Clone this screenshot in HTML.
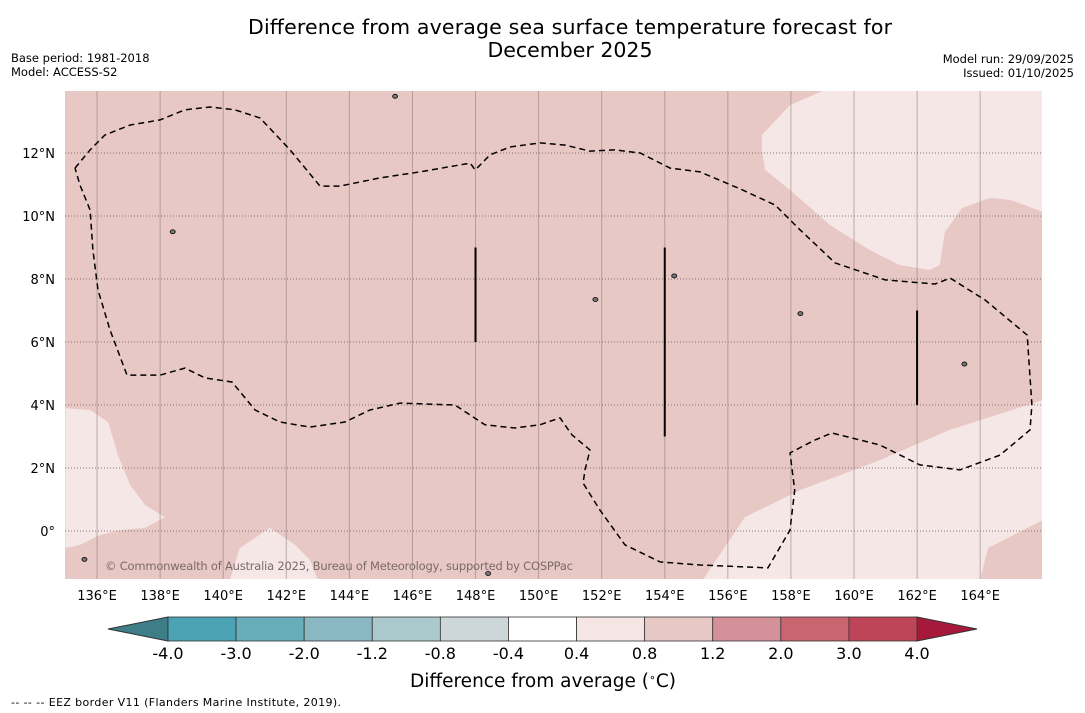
<!DOCTYPE html>
<html><head><meta charset="utf-8">
<style>
body{margin:0;background:#fff;width:1085px;height:713px;overflow:hidden;font-family:"Liberation Sans","DejaVu Sans",sans-serif}
svg{display:block}
text{font-family:"DejaVu Sans","Liberation Sans",sans-serif}
</style></head>
<body>
<svg id="chart" width="1085" height="713" xmlns="http://www.w3.org/2000/svg">
<text x="570" y="34" font-size="20.5" text-anchor="middle" textLength="644">Difference from average sea surface temperature forecast for</text>
<text x="570" y="57" font-size="20.5" text-anchor="middle">December 2025</text>
<text x="11" y="62" font-size="11.5">Base period: 1981-2018</text>
<text x="11" y="76" font-size="11.5">Model: ACCESS-S2</text>
<text x="1074" y="63" font-size="11.5" text-anchor="end">Model run: 29/09/2025</text>
<text x="1074" y="77" font-size="11.5" text-anchor="end">Issued: 01/10/2025</text>
<g id="map"></g>
<g id="cbar"></g>
<text x="543" y="687" font-size="18.5" text-anchor="middle">Difference from average (<tspan baseline-shift="super" font-size="11">∘</tspan>C)</text>
<text x="11" y="706" font-size="11" textLength="330">--  --  -- EEZ border V11 (Flanders Marine Institute, 2019).</text>
</svg>
<script>
const lonTicks=[136,138,140,142,144,146,148,150,152,154,156,158,160,162,164];
const latTicks=[0,2,4,6,8,10,12];
const cbBounds=[-4.0,-3.0,-2.0,-1.2,-0.8,-0.4,0.4,0.8,1.2,2.0,3.0,4.0];
const cbColors=["#4aa2b3","#6aadba","#89b8c3","#a9c9cd","#cdd7d9","#ffffff","#f5e6e4","#e8c8c4","#d5919a","#c8656f","#bd4557"];
const lightLonA=[157.08,157.97,159.08,166,166,164.95,164.31,163.42,162.88,162.72,162.4,161.45,160.5,159.24,157.97,157.18,157.08];
const lightLatA=[12.57,13.52,14,14,10.13,10.51,10.57,10.25,9.49,8.44,8.29,8.44,8.92,9.71,10.83,11.46,12.1];
const lightLonB=[155.21,156.54,158.29,160.82,163.04,166,166,164.25,164.0];
const lightLatB=[-1.55,0.44,1.30,2.25,3.21,4.16,0.35,-0.54,-1.55];
const lightLonC=[135,135.78,136.35,136.66,137.05,137.52,138.15,137.52,136.73,136.09,135.46,135];
const lightLatC=[3.90,3.84,3.46,2.41,1.46,0.83,0.44,0.10,0.03,-0.13,-0.44,-0.54];
const lightLonD=[140.21,140.53,141.48,142.28,142.75,143.0];
const lightLatD=[-1.55,-0.54,0.10,-0.44,-0.92,-1.55];
const eezLon=[135.30,135.78,136.25,137.05,138.0,138.79,139.58,140.37,141.17,142.12,143.07,143.70,144.97,146.24,147.83,147.99,148.46,149.09,150.04,150.84,151.63,152.42,153.22,154.17,155.12,156.39,157.50,158.29,159.40,160.99,162.57,163.05,164.16,165.49,165.64,165.58,164.63,163.36,162.09,160.82,160.19,159.30,158.76,157.97,158.12,157.97,157.27,155.12,153.85,152.74,151.94,151.41,151.47,151.63,151.06,150.68,150.04,149.25,148.30,147.35,145.61,144.65,143.86,142.75,141.80,141.01,140.28,139.42,138.79,138.0,136.95,136.41,136.03,135.87,135.78,135.46,135.30];
const eezLat=[11.52,12.10,12.57,12.89,13.05,13.37,13.46,13.37,13.11,12.10,10.95,10.95,11.21,11.40,11.68,11.46,11.94,12.19,12.32,12.25,12.06,12.10,12.0,11.52,11.40,10.86,10.35,9.56,8.51,7.97,7.84,8.03,7.33,6.22,4.0,3.21,2.41,1.94,2.10,2.73,2.89,3.11,2.89,2.48,1.30,0.03,-1.17,-1.08,-0.98,-0.44,0.67,1.52,1.94,2.57,3.05,3.59,3.37,3.27,3.37,4.0,4.06,3.84,3.46,3.30,3.46,3.84,4.73,4.86,5.17,4.95,4.95,6.38,7.65,8.92,10.19,10.98,11.52];
const segLon=[148,154,162];
const segLat0=[9,9,7];
const segLat1=[6,3,4];
const islandLon=[145.45,151.8,158.3,163.5,154.3,135.6,148.4,138.4];
const islandLat=[13.8,7.35,6.9,5.3,8.1,-0.9,-1.35,9.5];

const X0=65.5,Y0=531,SX=31.54,SY=31.5,L=65,R=1042,T=91,B=579;
const xs=lon=>X0+(lon-135)*SX;
const ys=lat=>Y0-lat*SY;
const NS="http://www.w3.org/2000/svg";
function mk(tag,parent,at){const e=document.createElementNS(NS,tag);for(const k in at)e.setAttribute(k,at[k]);parent.appendChild(e);return e;}
const map=document.getElementById('map');
const clip=mk('clipPath',map,{id:'mc'});mk('rect',clip,{x:L,y:T,width:R-L,height:B-T});
const bg=mk('rect',map,{x:L,y:T,width:R-L,height:B-T,fill:'#e8c8c4'});


const g=mk('g',map,{'clip-path':'url(#mc)'});
function poly(lons,lats){return lons.map((l,i)=>xs(l).toFixed(1)+','+ys(lats[i]).toFixed(1)).join(' ');}
[[lightLonA,lightLatA,'light-anomaly-northeast'],[lightLonB,lightLatB,'light-anomaly-southeast'],[lightLonC,lightLatC,'light-anomaly-west'],[lightLonD,lightLatD,'light-anomaly-south']].forEach(([a,b,n])=>{
  const p=mk('polygon',g,{points:poly(a,b),fill:'#f5e7e5'});
  
  
});
lonTicks.forEach(l=>{
  const ln=mk('line',g,{x1:xs(l),x2:xs(l),y1:T,y2:B,stroke:'#8a7a7a','stroke-opacity':0.55,'stroke-width':1});
  
  
  const t=mk('text',map,{x:xs(l),y:600,'font-size':13,'text-anchor':'middle'});t.textContent=l+'°E';
  
  
});
latTicks.forEach(l=>{
  const ln=mk('line',g,{x1:L,x2:R,y1:ys(l),y2:ys(l),stroke:'#6a5a5a','stroke-opacity':0.8,'stroke-width':1,'stroke-dasharray':'1,2'});
  
  
  const t=mk('text',map,{x:55,y:ys(l)+5,'font-size':13,'text-anchor':'end'});t.textContent=(l===0?'0°':l+'°N');
  
  
});
const eez=mk('polyline',g,{points:poly(eezLon,eezLat),fill:'none',stroke:'#000','stroke-width':1.5,'stroke-dasharray':'6,4'});


segLon.forEach((l,i)=>{
  const s=mk('line',g,{x1:xs(l),x2:xs(l),y1:ys(segLat0[i]),y2:ys(segLat1[i]),stroke:'#000','stroke-width':2});
  
  
});
islandLon.forEach((l,i)=>{
  const c=mk('ellipse',g,{cx:xs(l),cy:ys(islandLat[i]),rx:2.5,ry:2,fill:'#777',stroke:'#000','stroke-width':0.8});
  
  
});
const cr=mk('text',g,{x:105,y:570,'font-size':11.5,fill:'#7a6a6a',textLength:468});cr.textContent='© Commonwealth of Australia 2025, Bureau of Meteorology, supported by COSPPac';



const cb=document.getElementById('cbar');
const CL=168,CR=917,CT=617,CB=641,n=cbColors.length,w=(CR-CL)/n;
const el=mk('polygon',cb,{points:`${CL},${CT} ${CL},${CB} 108,629`,fill:'#3d7e88',stroke:'#333','stroke-width':1});


const er=mk('polygon',cb,{points:`${CR},${CT} ${CR},${CB} 977,629`,fill:'#a7193b',stroke:'#333','stroke-width':1});


cbColors.forEach((c,i)=>{
  const r=mk('rect',cb,{x:CL+i*w,y:CT,width:w,height:CB-CT,fill:c,stroke:'#333','stroke-width':0.8});
  
  
});
cbBounds.forEach((v,i)=>{
  const t=mk('text',cb,{x:CL+i*w,y:659,'font-size':16,'text-anchor':'middle'});t.textContent=v.toFixed(1);
  
  
});
</script>
</body></html>
